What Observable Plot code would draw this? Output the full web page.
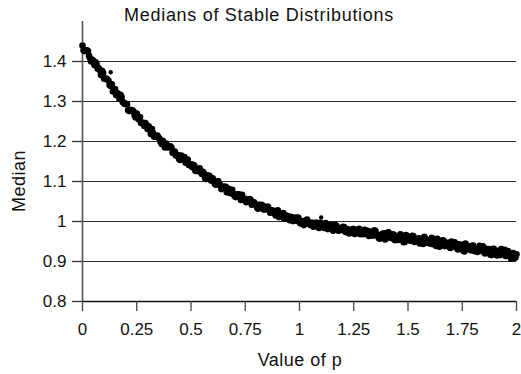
<!DOCTYPE html>
<html><head><meta charset="utf-8">
<script src="https://cdn.jsdelivr.net/npm/d3@7"></script>
<script src="https://cdn.jsdelivr.net/npm/@observablehq/plot@0.6"></script>
<style>
body{margin:0;background:#fff;}
#wrap{width:521px;height:374px;}
</style></head><body><div id="wrap"></div>
<script>
const title = "Medians of Stable Distributions";
const xLabel = "Value of p";
const yLabel = "Median";
const xTicks = [0,0.25,0.5,0.75,1,1.25,1.5,1.75,2];
const yTicks = [0.8,0.9,1,1.1,1.2,1.3,1.4];
const gridLines = [0.9,1,1.1,1.2,1.3,1.4];

const pA = [
0,0.01,0.02,0.03,0.04,0.05,0.06,0.07,0.08,0.09,
0.1,0.11,0.12,0.13,0.14,0.15,0.16,0.17,0.18,0.19,
0.2,0.21,0.22,0.23,0.24,0.25,0.26,0.27,0.28,0.29,
0.3,0.31,0.32,0.33,0.34,0.35,0.36,0.37,0.38,0.39,
0.4,0.41,0.42,0.43,0.44,0.45,0.46,0.47,0.48,0.49,
0.5,0.51,0.52,0.53,0.54,0.55,0.56,0.57,0.58,0.59,
0.6,0.61,0.62,0.63,0.64,0.65,0.66,0.67,0.68,0.69,
0.7,0.71,0.72,0.73,0.74,0.75,0.76,0.77,0.78,0.79,
0.8,0.81,0.82,0.83,0.84,0.85,0.86,0.87,0.88,0.89,
0.9,0.91,0.92,0.93,0.94,0.95,0.96,0.97,0.98,0.99,
1,1.01,1.02,1.03,1.04,1.05,1.06,1.07,1.08,1.09,
1.1,1.11,1.12,1.13,1.14,1.15,1.16,1.17,1.18,1.19,
1.2,1.21,1.22,1.23,1.24,1.25,1.26,1.27,1.28,1.29,
1.3,1.31,1.32,1.33,1.34,1.35,1.36,1.37,1.38,1.39,
1.4,1.41,1.42,1.43,1.44,1.45,1.46,1.47,1.48,1.49,
1.5,1.51,1.52,1.53,1.54,1.55,1.56,1.57,1.58,1.59,
1.6,1.61,1.62,1.63,1.64,1.65,1.66,1.67,1.68,1.69,
1.7,1.71,1.72,1.73,1.74,1.75,1.76,1.77,1.78,1.79,
1.8,1.81,1.82,1.83,1.84,1.85,1.86,1.87,1.88,1.89,
1.9,1.91,1.92,1.93,1.94,1.95,1.96,1.97,1.98,1.99,
2];
const medA = [
1.440,1.426,1.428,1.414,1.400,1.402,1.398,1.382,1.378,1.377,
1.357,1.357,1.352,1.339,1.325,1.331,1.321,1.307,1.311,1.297,
1.294,1.278,1.279,1.278,1.265,1.270,1.255,1.246,1.247,1.246,
1.231,1.231,1.231,1.212,1.212,1.210,1.199,1.202,1.185,1.188,
1.187,1.185,1.172,1.165,1.166,1.154,1.160,1.161,1.148,1.141,
1.143,1.142,1.127,1.130,1.133,1.119,1.119,1.106,1.114,1.104,
1.108,1.094,1.098,1.092,1.081,1.087,1.087,1.077,1.071,1.079,
1.065,1.066,1.068,1.054,1.057,1.057,1.050,1.056,1.042,1.048,
1.041,1.032,1.040,1.040,1.030,1.037,1.029,1.023,1.025,1.015,
1.028,1.016,1.019,1.007,1.015,1.008,1.012,1.001,1.006,1.010,
0.998,1.000,0.991,1.003,0.997,0.991,0.997,0.991,0.997,0.984,
0.990,0.993,0.996,0.981,0.988,0.984,0.981,0.989,0.977,0.982,
0.987,0.975,0.981,0.970,0.977,0.981,0.973,0.978,0.968,0.975,
0.979,0.970,0.964,0.974,0.965,0.976,0.967,0.957,0.967,0.970,
0.959,0.973,0.960,0.968,0.953,0.962,0.958,0.963,0.948,0.966,
0.957,0.952,0.964,0.949,0.955,0.958,0.950,0.944,0.957,0.953,
0.945,0.959,0.947,0.939,0.951,0.946,0.953,0.938,0.944,0.938,
0.950,0.938,0.944,0.930,0.939,0.942,0.925,0.934,0.938,0.928,
0.940,0.932,0.924,0.939,0.927,0.924,0.932,0.926,0.917,0.931,
0.926,0.915,0.926,0.931,0.919,0.914,0.926,0.914,0.919,0.908,
0.918];

const pB = [
0.005,0.015,0.025,0.035,0.045,0.055,0.065,0.075,0.085,0.095,
0.105,0.115,0.125,0.135,0.145,0.155,0.165,0.175,0.185,0.195,
0.205,0.215,0.225,0.235,0.245,0.255,0.265,0.275,0.285,0.295,
0.305,0.315,0.325,0.335,0.345,0.355,0.365,0.375,0.385,0.395,
0.405,0.415,0.425,0.435,0.445,0.455,0.465,0.475,0.485,0.495,
0.505,0.515,0.525,0.535,0.545,0.555,0.565,0.575,0.585,0.595,
0.605,0.615,0.625,0.635,0.645,0.655,0.665,0.675,0.685,0.695,
0.705,0.715,0.725,0.735,0.745,0.755,0.765,0.775,0.785,0.795,
0.805,0.815,0.825,0.835,0.845,0.855,0.865,0.875,0.885,0.895,
0.905,0.915,0.925,0.935,0.945,0.955,0.965,0.975,0.985,0.995,
1.005,1.015,1.025,1.035,1.045,1.055,1.065,1.075,1.085,1.095,
1.105,1.115,1.125,1.135,1.145,1.155,1.165,1.175,1.185,1.195,
1.205,1.215,1.225,1.235,1.245,1.255,1.265,1.275,1.285,1.295,
1.305,1.315,1.325,1.335,1.345,1.355,1.365,1.375,1.385,1.395,
1.405,1.415,1.425,1.435,1.445,1.455,1.465,1.475,1.485,1.495,
1.505,1.515,1.525,1.535,1.545,1.555,1.565,1.575,1.585,1.595,
1.605,1.615,1.625,1.635,1.645,1.655,1.665,1.675,1.685,1.695,
1.705,1.715,1.725,1.735,1.745,1.755,1.765,1.775,1.785,1.795,
1.805,1.815,1.825,1.835,1.845,1.855,1.865,1.875,1.885,1.895,
1.905,1.915,1.925,1.935,1.945,1.955,1.965,1.975,1.985,1.995];
const medB = [
1.428,1.428,1.426,1.408,1.404,1.391,1.393,1.383,1.366,1.372,
1.358,1.355,1.341,1.343,1.330,1.316,1.318,1.317,1.299,1.294,
1.293,1.276,1.278,1.275,1.260,1.260,1.261,1.247,1.239,1.241,
1.238,1.219,1.222,1.213,1.215,1.207,1.194,1.195,1.195,1.185,
1.188,1.172,1.175,1.166,1.156,1.165,1.156,1.147,1.155,1.143,
1.136,1.140,1.126,1.130,1.123,1.124,1.108,1.115,1.114,1.102,
1.101,1.092,1.101,1.091,1.083,1.087,1.073,1.082,1.075,1.069,
1.061,1.068,1.061,1.067,1.053,1.048,1.053,1.054,1.044,1.044,
1.034,1.042,1.042,1.030,1.032,1.037,1.022,1.028,1.022,1.025,
1.011,1.018,1.021,1.009,1.013,1.003,1.007,1.010,1.002,1.009,
0.995,1.001,0.994,1.005,0.998,0.992,0.987,0.997,0.992,0.997,
0.989,0.984,0.991,0.985,0.991,0.977,0.991,0.983,0.978,0.983,
0.986,0.973,0.979,0.975,0.981,0.969,0.978,0.982,0.973,0.968,
0.972,0.977,0.972,0.965,0.978,0.966,0.959,0.967,0.970,0.955,
0.971,0.963,0.958,0.967,0.960,0.954,0.968,0.961,0.949,0.964,
0.955,0.957,0.963,0.950,0.954,0.945,0.956,0.962,0.947,0.950,
0.955,0.943,0.950,0.957,0.937,0.946,0.951,0.942,0.947,0.934,
0.942,0.948,0.934,0.943,0.936,0.927,0.945,0.936,0.930,0.939,
0.926,0.931,0.934,0.928,0.938,0.920,0.928,0.931,0.916,0.932,
0.923,0.927,0.916,0.923,0.929,0.914,0.918,0.907,0.921,0.910];

const pOut = [0.13, 1.10];
const medOut = [1.373, 1.010];

function zip(ps, ms) {
  const n = Math.min(ps.length, ms.length);
  const out = [];
  for (let i = 0; i < n; i++) out.push({p: ps[i], m: ms[i]});
  return out;
}
const points = [...zip(pA, medA), ...zip(pB, medB)];
const outliers = zip(pOut, medOut);

const font = "'Liberation Sans', Arial, Helvetica, sans-serif";
const chart = Plot.plot({
  width: 521, height: 374,
  marginLeft: 82, marginRight: 5, marginTop: 21, marginBottom: 73,
  x: {domain: [0, 2]},
  y: {domain: [0.8, 1.5]},
  style: {fontFamily: font, fontSize: "17px", color: "#111", background: "#fff"},
  marks: [
    Plot.ruleY(gridLines, {stroke: "#2a2a2a", strokeWidth: 1.2}),
    Plot.ruleY([0.8], {stroke: "#111", strokeWidth: 1.3}),
    Plot.ruleX([0], {stroke: "#555", strokeWidth: 1.6}),
    Plot.axisY({ticks: yTicks, tickSize: 10, tickPadding: 6, tickFormat: d => String(d), label: null, stroke: "#333", strokeWidth: 1.3}),
    Plot.axisX({ticks: xTicks, tickSize: 10, tickPadding: 11, tickFormat: d => String(d), label: null, stroke: "#444", strokeWidth: 1.3}),
    Plot.dot(points, {x: "p", y: "m", r: 3.3, fill: "#000", stroke: "none"}),
    Plot.dot(outliers, {x: "p", y: "m", r: 2.2, fill: "#000", stroke: "none"})
  ]
});
const svg = d3.select(chart);
svg.append("text").attr("x", 259).attr("y", 21).attr("text-anchor", "middle")
  .attr("font-size", 18).attr("letter-spacing", "0.7px").attr("fill", "#111").text(title);
svg.append("text").attr("x", 300).attr("y", 366).attr("text-anchor", "middle")
  .attr("font-size", 18).attr("letter-spacing", "0.5px").attr("fill", "#111").text(xLabel);
svg.append("text").attr("transform", "translate(25,181) rotate(-90)").attr("text-anchor", "middle")
  .attr("font-size", 18).attr("letter-spacing", "0.5px").attr("fill", "#111").text(yLabel);
document.getElementById("wrap").appendChild(chart);
</script>
</body></html>
